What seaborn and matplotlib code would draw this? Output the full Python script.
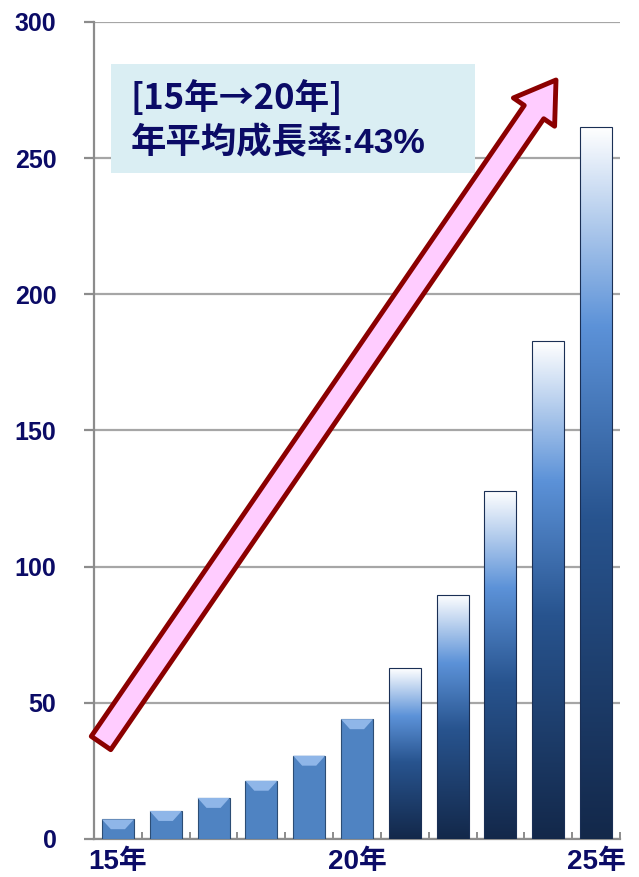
import numpy as np
import pandas as pd
import seaborn as sns
import matplotlib.pyplot as plt
from matplotlib.patches import FancyArrowPatch, Rectangle, Polygon
from matplotlib.colors import LinearSegmentedColormap

# ================= DATA =================
years = ["15年", "16年", "17年", "18年", "19年", "20年", "21年", "22年", "23年", "24年", "25年"]
values = [7.2, 10.3, 15.1, 21.4, 30.6, 44.0, 62.7, 89.6, 127.8, 182.8, 261.5]
shown_labels = ["15年", "", "", "", "", "20年", "", "", "", "", "25年"]
y_ticks = [0, 50, 100, 150, 200, 250, 300]
note_lines = ["[15年→20年]", "年平均成長率:43%"]

NAVY = "#0B0B66"

sns.set_theme(style="white")
plt.rcParams["font.family"] = ["Liberation Sans", "Noto Sans CJK JP", "DejaVu Sans"]

df = pd.DataFrame({"year": years, "value": values})

fig = plt.figure(figsize=(6.39, 8.77), dpi=100)
ax = fig.add_axes([94 / 639, 1 - 839 / 877, (620 - 94) / 639, (839 - 22) / 877])

sns.barplot(data=df, x="year", y="value", ax=ax, color="#4F83C2", saturation=1,
            width=0.67, edgecolor="#2C4D75", linewidth=0.8, zorder=3)

# gradient fill for the forecast bars (21年-25年), bevel on the actual ones
grad = LinearSegmentedColormap.from_list(
    "g", [(0, "#13284A"), (0.45, "#28548F"), (0.72, "#5C92D8"), (1, "#FFFFFF")])
ramp = np.linspace(0, 1, 256).reshape(-1, 1)
px_per_unit = (839 - 22) / 300
for i, p in enumerate(ax.patches):
    x0, w, h = p.get_x(), p.get_width(), p.get_height()
    if i >= 6:
        p.set_facecolor("none")
        p.set_edgecolor("#1A2F55")
        im = ax.imshow(ramp, cmap=grad, aspect="auto", origin="lower",
                       extent=[x0, x0 + w, 0, h], zorder=2.9)
        im.set_clip_path(p)
    else:
        d = min(10 / px_per_unit, h * 0.5)
        bev = Polygon([(x0, h), (x0 + w, h), (x0 + w * 0.72, h - d), (x0 + w * 0.28, h - d)],
                      closed=True, facecolor="#8FB6E8", edgecolor="none", zorder=3.2)
        ax.add_patch(bev)

ax.set_xlim(-0.5, 10.5)
ax.set_ylim(0, 300)
ax.set_yticks(y_ticks)
ax.set_xticks(range(len(years)))
ax.set_xticklabels(shown_labels)
ax.set_xticks(np.arange(-0.5, 11, 1), minor=True)
ax.set_xlabel("")
ax.set_ylabel("")

ax.yaxis.grid(True, color="#A6A6A6", linewidth=1.6, zorder=0)
ax.set_axisbelow(True)
for s in ["top", "right"]:
    ax.spines[s].set_visible(False)
for s in ["left", "bottom"]:
    ax.spines[s].set_color("#8C8C8C")
    ax.spines[s].set_linewidth(1.6)

ax.tick_params(axis="y", which="major", left=True, length=7, width=1.6,
               color="#8C8C8C", pad=20, labelsize=18, labelcolor=NAVY)
ax.tick_params(axis="x", which="major", bottom=False, pad=1,
               labelsize=20, labelcolor=NAVY)
ax.tick_params(axis="x", which="minor", bottom=True, direction="in",
               length=5, width=1.4, color="#8C8C8C")
for lab in ax.get_yticklabels() + ax.get_xticklabels():
    lab.set_fontweight("bold")

# ================= NOTE BOX =================
fig.patches.append(Rectangle((111 / 639, 1 - 173 / 877), (475 - 111) / 639, (173 - 64) / 877,
                             transform=fig.transFigure, facecolor="#DAEEF3",
                             edgecolor="none", zorder=5))
fig.text(131 / 639, 1 - 98 / 877, note_lines[0], color=NAVY, fontsize=25,
         fontweight="bold", va="center", ha="left", zorder=6,
         family=["Noto Sans CJK JP", "DejaVu Sans"])
fig.text(131 / 639, 1 - 143 / 877, note_lines[1], color=NAVY, fontsize=25.5,
         fontweight="bold", va="center", ha="left", zorder=6)

# ================= BIG ARROW =================
arrow = FancyArrowPatch((101 / 639, 1 - 743 / 877), (556 / 639, 1 - 80 / 877),
                        transform=fig.transFigure,
                        arrowstyle="simple,head_width=36,head_length=28,tail_width=17",
                        mutation_scale=1, shrinkA=0, shrinkB=0,
                        facecolor="#FFCCFF", edgecolor="#8B0000", linewidth=3.5,
                        zorder=7)
fig.patches.append(arrow)

fig.savefig("out.png", dpi=100)
